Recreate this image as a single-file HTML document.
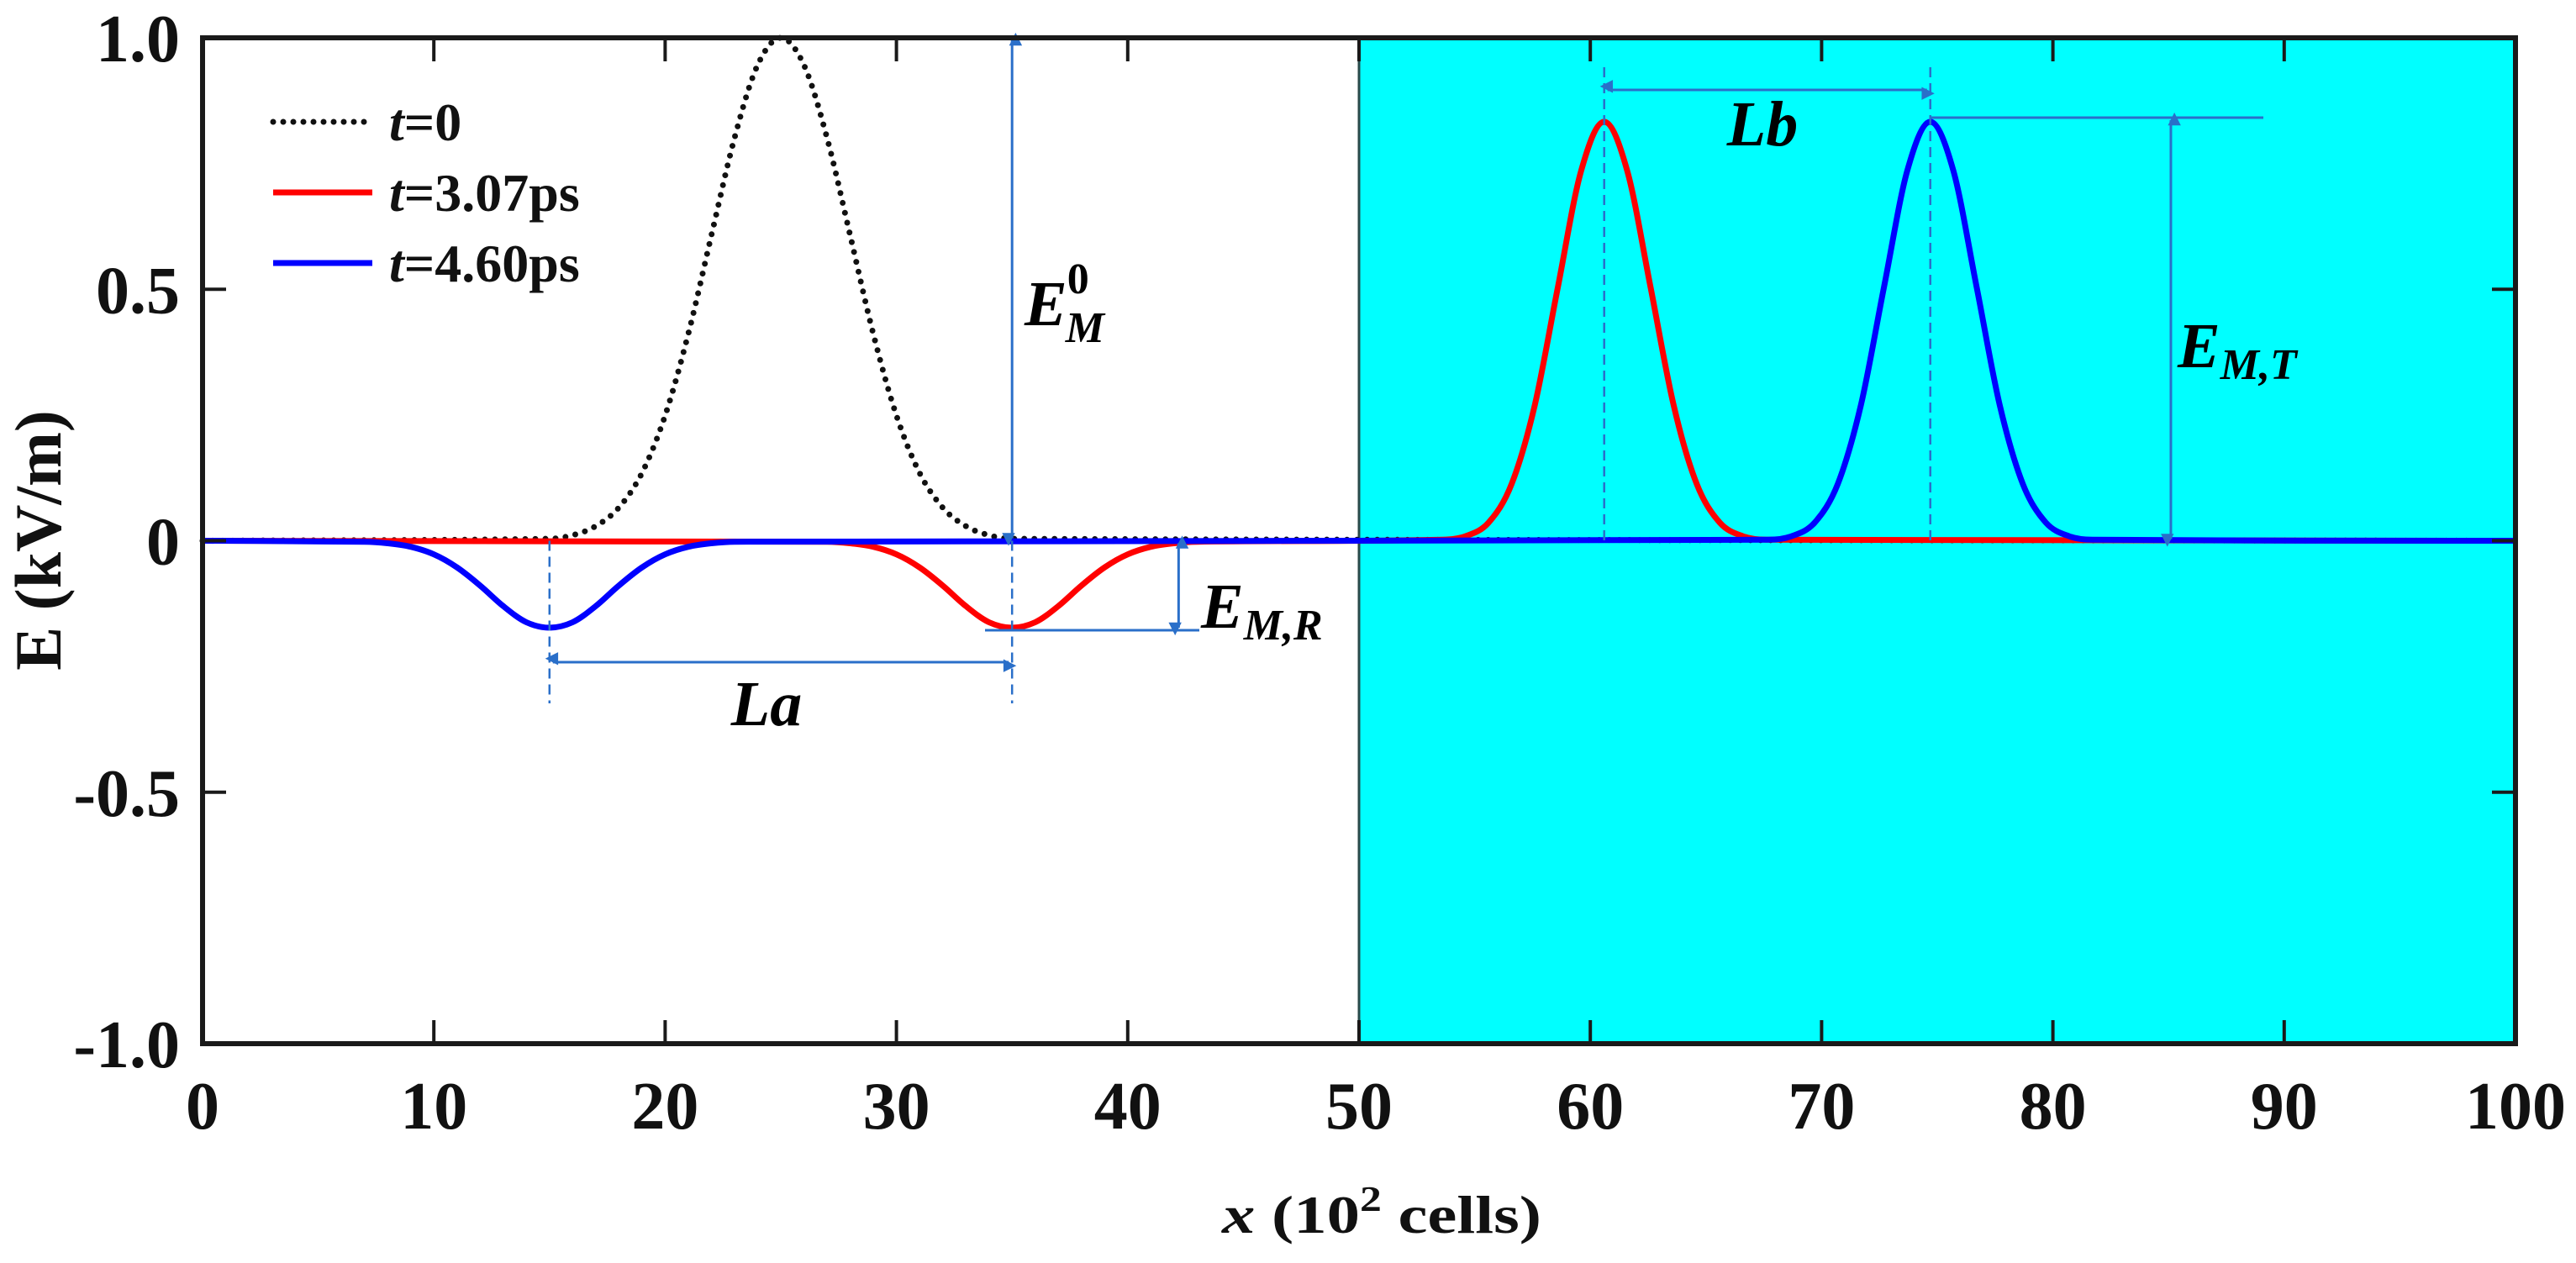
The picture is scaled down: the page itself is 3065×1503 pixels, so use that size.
<!DOCTYPE html>
<html><head><meta charset="utf-8"><style>
html,body{margin:0;padding:0;background:#fff;}
svg{display:block;font-family:"Liberation Serif",serif;}
</style></head><body>
<svg id="chart" width="3065" height="1503" viewBox="0 0 3065 1503" xmlns="http://www.w3.org/2000/svg">
<defs>
<marker id="ah" viewBox="0 0 10 10" refX="9" refY="5" markerWidth="7" markerHeight="7" orient="auto-start-reverse" markerUnits="userSpaceOnUse" style="overflow:visible">
<path d="M0,0 L10,5 L0,10 z" fill="#2a6fc9" transform="scale(2.2) translate(-5,-5) translate(5,5)"/>
</marker>
</defs>
<g id="bg"></g>
<g id="series"></g>
<g id="annot"></g>
<g id="axes"></g>
<g id="legend"></g>
</svg>
<script>
// ---- data ----
const xTicks = [0,10,20,30,40,50,60,70,80,90,100];
const xTickLabels = ["0","10","20","30","40","50","60","70","80","90","100"];
const yTicks = [1.0,0.5,0,-0.5,-1.0];
const yTickLabels = ["1.0","0.5","0","-0.5","-1.0"];
const mediumStart = 50;
const mediumEnd = 100;

const t0X = [0,15,16,17,18,19,20,21,22,23,24,25,26,27,28,29,30,31,32,33,34,35,100];
const t0Y = [0,0.004,0.011,0.029,0.066,0.135,0.249,0.411,0.607,0.801,0.946,1,0.946,0.801,0.607,0.411,0.249,0.135,0.066,0.029,0.011,0.004,0];

const redX = [0,27,28,29,30,31,32,33,34,35,36,37,38,39,40,41,42,43,53.6,54.6,55.6,56.6,57.6,58.6,59.6,60.6,61.6,62.6,63.6,64.6,65.6,66.6,67.6,100];
const redY = [0,-0.002,-0.005,-0.012,-0.027,-0.053,-0.089,-0.130,-0.162,-0.173,-0.162,-0.130,-0.089,-0.053,-0.027,-0.012,-0.005,-0.002,0.002,0.009,0.036,0.113,0.270,0.505,0.735,0.833,0.735,0.505,0.270,0.113,0.036,0.009,0.002,0];

const blueX = [0,7,8,9,10,11,12,13,14,15,16,17,18,19,20,21,22,23,67.7,68.7,69.7,70.7,71.7,72.7,73.7,74.7,75.7,76.7,77.7,78.7,79.7,80.7,81.7,100];
const blueY = [0,-0.002,-0.005,-0.012,-0.027,-0.053,-0.089,-0.130,-0.162,-0.173,-0.162,-0.130,-0.089,-0.053,-0.027,-0.012,-0.005,-0.002,0.002,0.009,0.036,0.113,0.270,0.505,0.735,0.833,0.735,0.505,0.270,0.113,0.036,0.009,0.002,0];

const legendLabels = ["=0","=3.07ps","=4.60ps"];

// ---- geometry ----
const L=241, R=2993, T=45, B=1242;
const xMin=0, xMax=100, yMin=-1, yMax=1;
function sx(v){return L+(v-xMin)/(xMax-xMin)*(R-L);}
function sy(v){return B-(v-yMin)/(yMax-yMin)*(B-T);}
const NS="http://www.w3.org/2000/svg";
function mk(tag,attrs,parent){const e=document.createElementNS(NS,tag);for(const k in attrs)e.setAttribute(k,attrs[k]);parent.appendChild(e);return e;}
function smoothPath(xs,ys){
  const p=xs.map((x,i)=>[sx(x),sy(ys[i])]);
  let d="M"+p[0][0].toFixed(1)+","+p[0][1].toFixed(1);
  for(let i=0;i<p.length-1;i++){
    const p0=p[Math.max(0,i-1)],p1=p[i],p2=p[i+1],p3=p[Math.min(p.length-1,i+2)];
    const dx=p2[0]-p1[0];
    const m1=(p2[1]-p0[1])/((p2[0]-p0[0])||1), m2=(p3[1]-p1[1])/((p3[0]-p1[0])||1);
    d+=" C"+(p1[0]+dx/3).toFixed(1)+","+(p1[1]+m1*dx/3).toFixed(1)+" "+(p2[0]-dx/3).toFixed(1)+","+(p2[1]-m2*dx/3).toFixed(1)+" "+p2[0].toFixed(1)+","+p2[1].toFixed(1);
  }
  return d;
}
const bg=document.getElementById('bg'), ser=document.getElementById('series'), an=document.getElementById('annot'), ax=document.getElementById('axes'), lg=document.getElementById('legend');

// background
const med=mk('rect',{x:sx(mediumStart),y:T,width:sx(mediumEnd)-sx(mediumStart),height:B-T,fill:'#00ffff'},bg);


const medEdge=mk('line',{x1:sx(mediumStart),y1:T,x2:sx(mediumStart),y2:B,stroke:'#2a4a4a','stroke-width':3},bg);



// series
const s0=mk('path',{d:smoothPath(t0X,t0Y),fill:'none',stroke:'#111','stroke-width':7,'stroke-dasharray':'0 12','stroke-linecap':'round'},ser);


const s1=mk('path',{d:smoothPath(redX,redY),fill:'none',stroke:'#ff0000','stroke-width':7,'stroke-linejoin':'round'},ser);


const s2=mk('path',{d:smoothPath(blueX,blueY),fill:'none',stroke:'#0000ff','stroke-width':7,'stroke-linejoin':'round'},ser);



// annotations
const AC='#2a6fc9';
function line(x1,y1,x2,y2,name,opts){const e=mk('line',Object.assign({x1:x1,y1:y1,x2:x2,y2:y2,stroke:AC,'stroke-width':3},opts||{}),an);return e;}
const dash={'stroke-dasharray':'12 7','stroke-width':2.5};
const arr={'marker-start':'url(#ah)','marker-end':'url(#ah)'};
line(sx(15),sy(0),sx(15),837,'la-dash-left',dash);
line(sx(35),sy(0),sx(35),837,'la-dash-right',dash);
line(sx(15)+4,788,sx(35)-4,788,'la-arrow',arr);
line(sx(35),T+3,sx(35),sy(0)-3,'em0-arrow',arr);
line(1172,750,1427,750,'emr-baseline');
line(sx(42.2),sy(0)+3,sx(42.2),747,'emr-arrow',arr);
line(sx(60.6),80,sx(60.6),sy(0),'lb-dash-left',dash);
line(sx(74.7),80,sx(74.7),sy(0),'lb-dash-right',dash);
line(sx(60.6)+4,107,sx(74.7)-4,107,'lb-arrow',arr);
line(sx(74.7),140,2693,140,'emt-topline');
line(sx(85.1),143,sx(85.1),sy(0)-2,'emt-arrow',arr);

function txt(x,y,html,name,size,anchor){const e=mk('text',{x:x,y:y,'font-size':size,'font-weight':'bold','text-anchor':anchor||'start',fill:'#000'},an);e.innerHTML=html;return e;}
txt(912,863,'<tspan font-style="italic">La</tspan>','label-la',76,'middle');
txt(2097,173,'<tspan font-style="italic">Lb</tspan>','label-lb',76,'middle');
txt(1219,387,'<tspan font-style="italic">E</tspan><tspan dy="-38" font-size="52">0</tspan><tspan dx="-28" dy="58" font-size="52" font-style="italic">M</tspan>','label-em0',76);
txt(1429,747,'<tspan font-style="italic">E</tspan><tspan dy="14" font-size="52" font-style="italic">M,R</tspan>','label-emr',76);
txt(2591,437,'<tspan font-style="italic">E</tspan><tspan dy="14" font-size="52" font-style="italic">M,T</tspan>','label-emt',76);

// axes frame
const fr=mk('rect',{x:L,y:T,width:R-L,height:B-T,fill:'none',stroke:'#1a1a1a','stroke-width':6},ax);


xTicks.forEach((v,i)=>{
  const X=sx(v);
  if(i>0&&i<xTicks.length-1){
    const t1=mk('line',{x1:X,y1:B,x2:X,y2:B-28,stroke:'#1a1a1a','stroke-width':4},ax);
    
    
    const t2=mk('line',{x1:X,y1:T,x2:X,y2:T+28,stroke:'#1a1a1a','stroke-width':4},ax);
    
    
  }
  const lb=mk('text',{x:X,y:1343,'font-size':80,'font-weight':'bold','text-anchor':'middle',fill:'#111'},ax);
  lb.textContent=xTickLabels[i];
  
  
});
yTicks.forEach((v,i)=>{
  const Y=sy(v);
  if(i>0&&i<yTicks.length-1){
    const t1=mk('line',{x1:L,y1:Y,x2:L+28,y2:Y,stroke:'#1a1a1a','stroke-width':4},ax);
    
    
    const t2=mk('line',{x1:R,y1:Y,x2:R-28,y2:Y,stroke:'#1a1a1a','stroke-width':4},ax);
    
    
  }
  const lb=mk('text',{x:214,y:Y+28,'font-size':80,'font-weight':'bold','text-anchor':'end',fill:'#111'},ax);
  lb.textContent=yTickLabels[i];
  
  
});
const xt=mk('text',{x:1454,y:1467,'font-size':64,'font-weight':'bold','text-anchor':'start',fill:'#111',textLength:380,lengthAdjust:'spacingAndGlyphs'},ax);
xt.innerHTML='<tspan font-style="italic">x</tspan> (10<tspan dy="-26" font-size="42">2</tspan><tspan dy="26"> cells)</tspan>';


const yt=mk('text',{x:0,y:0,'font-size':78,'font-weight':'bold','text-anchor':'middle',fill:'#111',transform:'translate(72,643) rotate(-90)'},ax);
yt.textContent='E (kV/m)';



// legend
const legStyles=[{stroke:'#111','stroke-dasharray':'0 12','stroke-linecap':'round'},{stroke:'#ff0000'},{stroke:'#0000ff'}];
const legRows=[145,229,313];
legendLabels.forEach((t,i)=>{
  const g=mk('g',{},lg);
  
  
  const ln=mk('line',Object.assign({x1:325,y1:legRows[i],x2:443,y2:legRows[i],'stroke-width':7},legStyles[i]),g);
  
  
  const tx=mk('text',{x:463,y:legRows[i]+22,'font-size':64,'font-weight':'bold',fill:'#111'},g);
  tx.innerHTML='<tspan font-style="italic">t</tspan>'+t;
  
  
});
</script>
</body></html>
